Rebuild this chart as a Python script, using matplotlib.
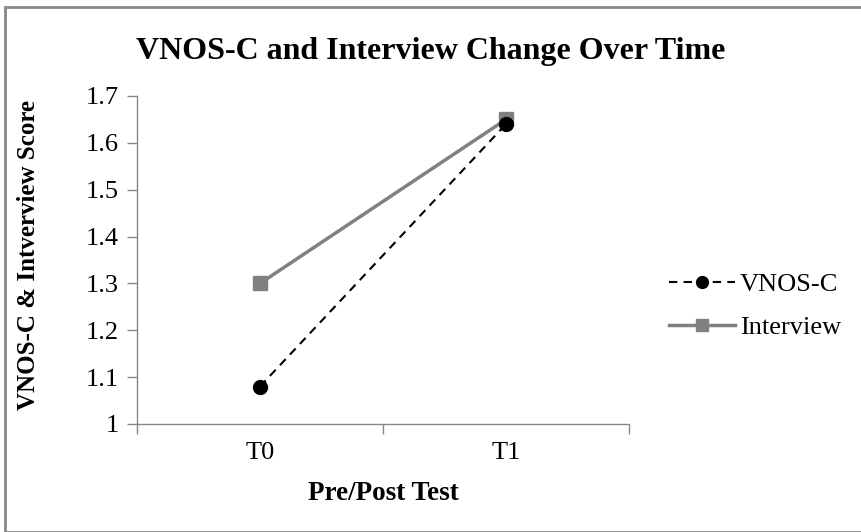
import matplotlib.pyplot as plt
from matplotlib.patches import Rectangle

categories = ["T0", "T1"]
vnos_c = [1.08, 1.64]
interview = [1.30, 1.65]
y_ticks = [1, 1.1, 1.2, 1.3, 1.4, 1.5, 1.6, 1.7]
y_tick_labels = ["1", "1.1", "1.2", "1.3", "1.4", "1.5", "1.6", "1.7"]

plt.rcParams['font.family'] = ['Liberation Serif', 'DejaVu Serif']

fig = plt.figure(figsize=(8.61, 5.32), dpi=100)
ax = fig.add_axes([137 / 861, 1 - 424 / 532, 492 / 861, 328 / 532])

x = list(range(len(categories)))
ax.plot(x, interview, color='#808080', linewidth=2.5, marker='s', markersize=10,
        label='Interview', zorder=3)
ax.plot(x, vnos_c, color='black', linewidth=1.5, linestyle=(0, (4, 3)), marker='o',
        markersize=10, label='VNOS-C', zorder=4)

ax.set_xlim(-0.5, len(categories) - 0.5)
ax.set_ylim(1, 1.7)
ax.set_yticks(y_ticks)
ax.set_yticklabels(y_tick_labels, fontsize=19)

# category boundaries carry the tick marks, labels sit between them
ax.set_xticks([i - 0.5 for i in range(len(categories) + 1)])
ax.set_xticklabels([])
ax.set_xticks(x, minor=True)
ax.set_xticklabels(categories, minor=True, fontsize=19)
ax.tick_params(axis='x', which='minor', length=0, pad=13)
ax.tick_params(axis='x', which='major', length=7, color='#888888', width=1)
ax.tick_params(axis='y', length=7, color='#888888', width=1, pad=6)

for side in ['top', 'right']:
    ax.spines[side].set_visible(False)
for side in ['left', 'bottom']:
    ax.spines[side].set_color('#888888')
    ax.spines[side].set_linewidth(1)

ax.set_xlabel('Pre/Post Test', fontsize=19.5, fontweight='bold')
ax.xaxis.set_label_coords(0.5, (424 - 481) / 328)
ax.set_ylabel('VNOS-C & Intverview Score', fontsize=18, fontweight='bold')
ax.yaxis.set_label_coords((40 - 137) / 492, 0.5 + (260 - 255) / 328)
fig.text(0.5, 1 - 52 / 532, 'VNOS-C and Interview Change Over Time',
         ha='center', va='center', fontsize=23, fontweight='bold')

handles, labels = ax.get_legend_handles_labels()
fig.legend(handles[::-1], labels[::-1], loc='center left',
           bbox_to_anchor=(645 / 861, 1 - 306 / 532), frameon=False, fontsize=19,
           handlelength=2.5, handletextpad=0.2, labelspacing=0.75, markerscale=0.85)

fig.patches.append(Rectangle((5 / 861, 0), 1, 1 - 7 / 532, transform=fig.transFigure,
                             fill=False, edgecolor='#888888', linewidth=2))

fig.savefig('out.png', dpi=100)
